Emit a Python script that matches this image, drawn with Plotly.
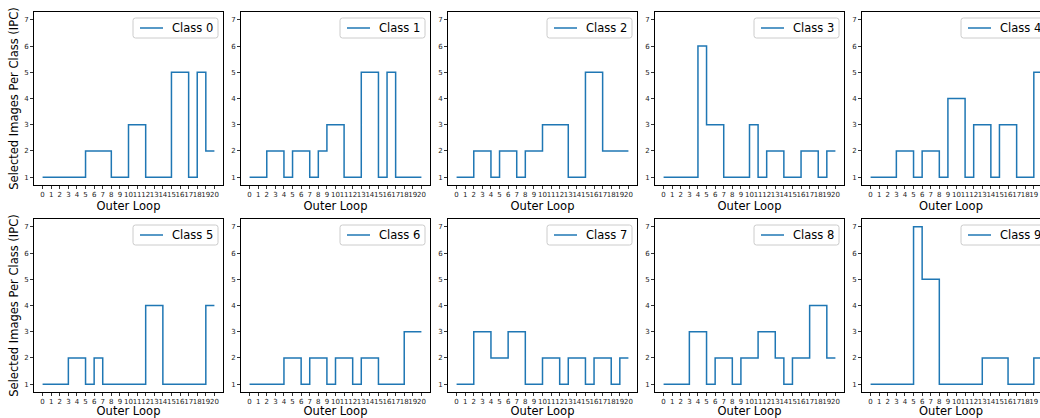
import plotly.graph_objects as go

# ---------------- data ----------------
outer_loop = list(range(21))
x_tick_labels = [str(i) for i in outer_loop]
y_tick_values = [1, 2, 3, 4, 5, 6, 7]
class_names = [f"Class {i}" for i in range(10)]

class_0 = [1, 1, 1, 1, 1, 2, 2, 2, 1, 1, 3, 3, 1, 1, 1, 5, 5, 1, 5, 2, 2]
class_1 = [1, 1, 2, 2, 1, 2, 2, 1, 2, 3, 3, 1, 1, 5, 5, 1, 5, 1, 1, 1, 1]
class_2 = [1, 1, 2, 2, 1, 2, 2, 1, 2, 2, 3, 3, 3, 1, 1, 5, 5, 2, 2, 2, 2]
class_3 = [1, 1, 1, 1, 6, 3, 3, 1, 1, 1, 3, 1, 2, 2, 1, 1, 2, 2, 1, 2, 2]
class_4 = [1, 1, 1, 2, 2, 1, 2, 2, 1, 4, 4, 1, 3, 3, 1, 3, 3, 1, 1, 5, 5]
class_5 = [1, 1, 1, 2, 2, 1, 2, 1, 1, 1, 1, 1, 4, 4, 1, 1, 1, 1, 1, 4, 4]
class_6 = [1, 1, 1, 1, 2, 2, 1, 2, 2, 1, 2, 2, 1, 2, 2, 1, 1, 1, 3, 3, 3]
class_7 = [1, 1, 3, 3, 2, 2, 3, 3, 1, 1, 2, 2, 1, 2, 2, 1, 2, 2, 1, 2, 2]
class_8 = [1, 1, 1, 3, 3, 1, 2, 2, 1, 2, 2, 3, 3, 2, 1, 2, 2, 4, 4, 2, 2]
class_9 = [1, 1, 1, 1, 1, 7, 5, 5, 1, 1, 1, 1, 1, 2, 2, 2, 1, 1, 1, 2, 2]

ipc_by_class = [class_0, class_1, class_2, class_3, class_4,
                class_5, class_6, class_7, class_8, class_9]

x_title = "Outer Loop"
y_title = "Selected Images Per Class (IPC)"

# ---------------- layout geometry (page pixels) ----------------
W, H = 1040, 418
col_left = [34, 241, 448, 655, 862]
panel_w = 189
row_top = [12, 219]
panel_h = 173
FONT = "DejaVu Sans"
LINE_COLOR = "#1f77b4"


def fx(X):
    return X / W


def fy(Y):
    return 1 - Y / H


def rounded_box(x0, y0, x1, y1, r=2.5):
    pts = [
        f"M {fx(x0 + r)},{fy(y0)}",
        f"L {fx(x1 - r)},{fy(y0)}",
        f"Q {fx(x1)},{fy(y0)} {fx(x1)},{fy(y0 + r)}",
        f"L {fx(x1)},{fy(y1 - r)}",
        f"Q {fx(x1)},{fy(y1)} {fx(x1 - r)},{fy(y1)}",
        f"L {fx(x0 + r)},{fy(y1)}",
        f"Q {fx(x0)},{fy(y1)} {fx(x0)},{fy(y1 - r)}",
        f"L {fx(x0)},{fy(y0 + r)}",
        f"Q {fx(x0)},{fy(y0)} {fx(x0 + r)},{fy(y0)}",
        "Z",
    ]
    return " ".join(pts)


fig = go.Figure()
layout = dict(
    width=W, height=H,
    margin=dict(l=0, r=0, t=0, b=0, autoexpand=False),
    paper_bgcolor="white", plot_bgcolor="white",
    font=dict(family=FONT, color="black"),
    showlegend=False,
)
shapes = []
annotations = []

for i, (name, vals) in enumerate(zip(class_names, ipc_by_class)):
    r, c = divmod(i, 5)
    k = i + 1
    xa = "x" if k == 1 else f"x{k}"
    ya = "y" if k == 1 else f"y{k}"
    fig.add_trace(go.Scatter(
        x=outer_loop, y=vals, mode="lines", line_shape="hv",
        line=dict(color=LINE_COLOR, width=1.5), name=name,
        xaxis=xa, yaxis=ya, showlegend=False,
    ))

    left = col_left[c]
    right = left + panel_w
    top = row_top[r]
    bottom = top + panel_h
    x_range = [-1, 21]
    x_dom_right = fx(right)
    if right > W:
        x_dom_right = 1.0
        x_range = [-1, -1 + 22 * (W - left) / panel_w]

    xkey = "xaxis" if k == 1 else f"xaxis{k}"
    ykey = "yaxis" if k == 1 else f"yaxis{k}"
    layout[xkey] = dict(
        domain=[fx(left), x_dom_right], anchor=ya, range=x_range,
        tickmode="array", tickvals=outer_loop, ticktext=x_tick_labels,
        tickangle=0, tickfont=dict(size=7, family=FONT, color="#222"),
        ticks="outside", ticklen=3, tickwidth=0.8, tickcolor="black",
        showline=True, linecolor="black", linewidth=1, mirror=True,
        showgrid=False, zeroline=False, fixedrange=True,
        title=dict(text=x_title, font=dict(size=11.5, family=FONT), standoff=2),
    )
    ydict = dict(
        domain=[fy(bottom), fy(top)], anchor=xa, range=[0.7, 7.3],
        tickmode="array", tickvals=y_tick_values,
        tickfont=dict(size=7, family=FONT, color="#222"),
        ticks="outside", ticklen=3, tickwidth=0.8, tickcolor="black",
        showline=True, linecolor="black", linewidth=1,
        mirror=(right <= W),
        showgrid=False, zeroline=False, fixedrange=True,
    )
    if c == 0:
        ydict["title"] = dict(text=y_title, font=dict(size=11.5, family=FONT), standoff=3)
    layout[ykey] = ydict

    # legend box (matplotlib-style) in the top-right corner of the panel
    bx1 = right - 5
    bx0 = bx1 - 85
    by0 = top + 6
    by1 = by0 + 20
    ymid = (by0 + by1) / 2
    shapes.append(dict(
        type="path", xref="paper", yref="paper", path=rounded_box(bx0, by0, bx1, by1),
        fillcolor="rgba(255,255,255,0.8)", line=dict(color="#cccccc", width=1),
        layer="above",
    ))
    shapes.append(dict(
        type="line", xref="paper", yref="paper",
        x0=fx(bx0 + 7), x1=fx(bx0 + 30), y0=fy(ymid), y1=fy(ymid),
        line=dict(color=LINE_COLOR, width=1.5), layer="above",
    ))
    annotations.append(dict(
        text=name, xref="paper", yref="paper", x=fx(bx0 + 37), y=fy(ymid),
        xanchor="left", yanchor="middle", showarrow=False,
        font=dict(size=11.5, family=FONT, color="black"),
    ))

layout["shapes"] = shapes
layout["annotations"] = annotations
fig.update_layout(**layout)
fig.write_html(
    "out.html",
    config={"displayModeBar": False, "staticPlot": True},
    post_script="document.body.style.margin='0';document.body.style.overflow='hidden';",
)
